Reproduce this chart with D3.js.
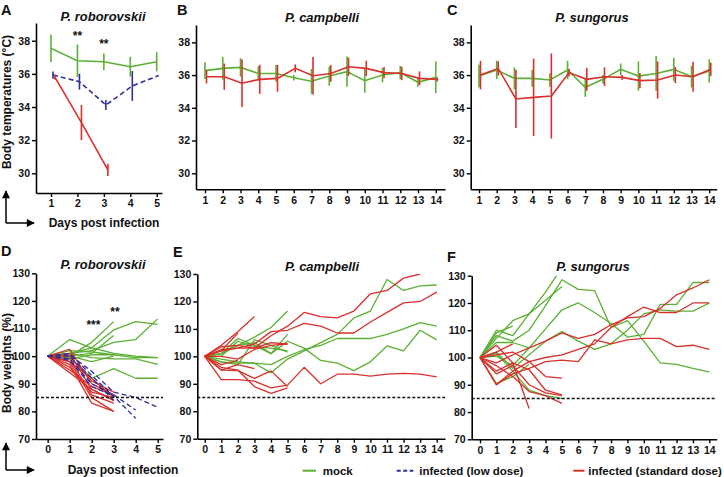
<!DOCTYPE html>
<html><head><meta charset="utf-8">
<script src="https://cdn.jsdelivr.net/npm/d3@7"></script>
<style>
html,body{margin:0;padding:0;background:#fff;}
svg{display:block;font-family:"Liberation Sans",Arial,Helvetica,sans-serif;}
</style></head>
<body><svg id="chart" width="724" height="477"></svg>
<script>
// ---------- DATA ----------
const tempDaysRobo = [1,2,3,4,5];
const tempDaysLong = [1,2,3,4,5,6,7,8,9,10,11,12,13,14];
const tempTicksY = [30,32,34,36,38];

// Panel A: P. roborovskii body temperature (mean, SD)
const tempRoboMock = [37.54, 36.79, 36.73, 36.43, 36.73];
const tempRoboMockSD = [0.83, 0.98, 0.50, 0.60, 0.58];
const tempRoboLow = [35.93, 35.53, 34.12, 35.27, 35.90];
const tempRoboLowSD = [0.22, 0.48, 0.30, 0.90, 0.0];
const tempRoboStd = [35.79, 33.06, 30.20];
const tempRoboStdSD = [0.15, 1.06, 0.37];

// Panel B: P. campbelli
const tempCampMock = [36.27,36.41,36.47,36.10,36.10,35.84,35.62,35.94,36.21,35.66,36.00,36.15,35.56,35.86];
const tempCampMockSD = [0.51,0.69,0.56,0.43,0.51,0.17,0.76,0.59,0.92,0.74,0.44,0.41,0.28,0.97];
const tempCampStd = [35.90,35.90,35.50,35.74,35.80,36.41,35.96,36.10,36.51,36.41,36.15,36.10,35.80,35.74];
const tempCampStdSD = [0.41,0.80,1.45,0.89,0.82,0.24,1.14,0.51,0.56,0.47,0.34,0.41,0.42,0.13];

// Panel C: P. sungorus
const tempSungMock = [35.94,36.31,35.80,35.80,35.70,36.31,35.25,35.74,36.35,35.94,36.10,36.35,35.90,36.25];
const tempSungMockSD = [0.69,0.56,0.67,0.51,0.41,0.56,0.58,0.27,0.36,0.89,1.07,0.71,0.66,0.71];
const tempSungStd = [36.00,36.41,34.54,34.64,34.72,36.15,35.74,35.90,35.86,35.66,35.70,36.00,35.90,36.35];
const tempSungStdSD = [0.87,0.44,1.78,2.37,2.60,0.24,0.70,0.57,0.15,0.46,1.14,0.49,0.92,0.41];

// Significance marks
const starsA = [{day:2, value:38.05, text:"**"}, {day:3, value:37.55, text:"**"}];
const starsD = [{day:2.08, value:110, text:"***"}, {day:3.06, value:114.5, text:"**"}];

// Body weights (% of day 0), one array per animal, values from day 0
const weightTicksY = [70,80,90,100,110,120,130];
const weightThreshold = 85;

const weightRoboMock = [
  [100,101,103,109.5,112.5,111.5],
  [100,100,105,112.5],
  [100,101,102,105,106,113.5],
  [100,100,101,107.5],
  [100,106,103,101,100,99.5],
  [100,99,100.5,100.5,99.5,99.5],
  [100,101,99.5,99,99,97],
  [100,99.5,92,95.5,92,92],
  [100,100,98,100],
  [100,102,101.5,100.5]
];
const weightRoboStd = [
  [100,102.5,90,86],
  [100,101,88,84],
  [100,99,86,83],
  [100,98,85,80],
  [100,97,83,80],
  [100,96,87,85],
  [100,95,89,86],
  [100,94,88,84],
  [100,100,91,87],
  [100,98,92,85]
];
const weightRoboLow = [
  [100,100.5,94.5,87,85,81.5],
  [100,101,93,85.5,77.5],
  [100,99,90,86,80.5],
  [100,100,92,84],
  [100,98.5,89,85.5]
];

const weightCampMock = [
  [100,98,97.5,97.5,94,99,102,105,108,114,116.5,128,124,125.7,126],
  [100,99,98,97.5,97,100,102.5,104,106.5,106.5,106.5,108,110,112.3,111],
  [100,101,104,105,101,105.5,103,98.5,97.5,94.8,98,103.8,102,109.5,106],
  [100,101,104,107,110.5,116.5],
  [100,101,106.5,104,101,108],
  [100,98,97,106,104,101.5],
  [100,100,105.5,103.5,103,102]
];
const weightCampStd = [
  [100,103.5,104,103,107.5,111,116,114.5,114,116.5,122.8,124,128.5,130],
  [100,102,103,104.5,109,109.5,112,111,108.5,108.5,112.5,116,119.5,120,123.4],
  [100,91.5,91.5,91,88.5,89.5,96,90,93.5,93.5,92.8,93.5,93.8,93.5,92.5],
  [100,104,109,114.5],
  [100,102,108.5],
  [100,95,97,95.5],
  [100,96,95,89,86.5,88.5],
  [100,95,94.8,92,94.7,89],
  [100,102.5,103,103,105,104.5],
  [100,100,99,102.5,104,104.5],
  [100,97,98.5]
];

const weightSungMock = [
  [100,110,108,116,124,133],
  [100,107,113.5,116,121,126],
  [100,108,106,110,119,128.5,125,124.5,111,113.5,106,98,97.5,96,94.7],
  [100,100.5,97,103.5,110.5,117.5,120,116.5,112.5,107.5,108.5,119.5,119.5,127.5,127.5],
  [100,102,96,101,106,109.5,106,103,105,110,116,117.5,117,117,120],
  [100,109,111.5],
  [100,105.5,105.5,103.5],
  [100,90.5,93,97.5],
  [100,101.5,95,88,86,85]
];
const weightSungStd = [
  [100,98,101,103.5,106,109,107,108.5,112,114.5,115,118,123,125.5,128.5],
  [100,90,95,98.5,100,101,103,105,111,115,118.5,116.5,116.5,120,120],
  [100,90,94,96,98.5,99,98.5,106.5,105,106.5,107,107,104,104.5,103],
  [100,101,102,98.5,93,92.4],
  [100,104.5,98,95.5,88,86.3],
  [100,97,93,87.5,86,83.2],
  [100,95,98,81.3],
  [100,102,105],
  [100,94,97,90,87,86]
];

const legendLabels = ["mock", "infected (low dose)", "infected (standard dose)"];
const speciesTitles = ["P. roborovskii", "P. campbelli", "P. sungorus"];

// ---------- STYLE ----------
const GREEN = "#5bb034", RED = "#d9302c", BLUE = "#2f2f9c";
const FONT_AXIS = "10.5px";
const svg = d3.select("#chart");

svg.append("defs").append("marker")
  .attr("id","arrow").attr("viewBox","0 0 10 10").attr("refX",9).attr("refY",5)
  .attr("markerWidth",9).attr("markerHeight",8).attr("markerUnits","userSpaceOnUse")
  .attr("orient","auto")
  .append("path").attr("d","M0,0L10,5L0,10Z").attr("fill","#000");

function styleAxis(g){
  g.selectAll(".domain").attr("stroke","#000").attr("stroke-width",1.6);
  g.selectAll(".tick line").attr("stroke","#000").attr("stroke-width",1.4);
  g.selectAll(".tick text").attr("font-size",FONT_AXIS).attr("font-weight","bold")
    .attr("font-family","'Liberation Sans',Arial,sans-serif").attr("fill","#111");
}

function makeScales(cfg){
  const x = d3.scaleLinear().domain(cfg.xDomain).range([cfg.left, cfg.right]);
  const y = d3.scaleLinear().domain(cfg.yDomain).range([cfg.bottom, cfg.top]);
  return {x,y};
}

function drawAxes(cfg, x, y, xTicks, yTicks){
  const gx = svg.append("g").attr("transform",`translate(0,${cfg.bottom})`)
    .call(d3.axisBottom(x).tickValues(xTicks).tickSize(4).tickSizeOuter(0).tickPadding(3).tickFormat(d3.format("d")));
  styleAxis(gx);
  const gy = svg.append("g").attr("transform",`translate(${cfg.left},0)`)
    .call(d3.axisLeft(y).tickValues(yTicks).tickSize(4).tickSizeOuter(0).tickPadding(2).tickFormat(d3.format("d")));
  styleAxis(gy);
}

function drawTitle(cfg, text){
  svg.append("text").attr("x",cfg.titleX).attr("y",cfg.titleY)
    .attr("text-anchor","middle").attr("font-size","13px").attr("font-weight","bold")
    .attr("font-style","italic").attr("fill","#111").text(text);
  svg.append("text").attr("x",cfg.letterX).attr("y",cfg.letterY)
    .attr("font-size","14.5px").attr("font-weight","bold").attr("fill","#111").text(cfg.letter);
}

function tempPanel(cfg, days, series){
  const {x,y} = makeScales(cfg);
  drawAxes(cfg, x, y, days, tempTicksY);
  series.forEach(s => {
    const pts = s.means.map((m,i)=>({d:days[i], m, sd:s.sd[i]}));
    const line = d3.line().x(p=>x(p.d)+s.offset).y(p=>y(p.m));
    svg.append("path").datum(pts).attr("d",line).attr("fill","none")
      .attr("stroke",s.color).attr("stroke-width",1.6)
      .attr("stroke-dasharray",s.dash||null);
    svg.append("g").selectAll("line").data(pts.filter(p=>p.sd>0)).join("line")
      .attr("x1",p=>x(p.d)+s.offset).attr("x2",p=>x(p.d)+s.offset)
      .attr("y1",p=>y(p.m-p.sd)).attr("y2",p=>y(p.m+p.sd))
      .attr("stroke",s.color).attr("stroke-width",1.6);
  });
  drawTitle(cfg, cfg.title);
  return {x,y};
}

let clipId = 0;
function weightPanel(cfg, groups){
  const {x,y} = makeScales(cfg);
  const xTicks = d3.range(0, cfg.maxDay+1);
  drawAxes(cfg, x, y, xTicks, weightTicksY);
  const cid = "clip"+(clipId++);
  svg.append("clipPath").attr("id",cid).append("rect")
    .attr("x",cfg.left).attr("y",cfg.top).attr("width",cfg.right-cfg.left).attr("height",cfg.bottom-cfg.top);
  const line = d3.line().x((v,i)=>x(i)).y(v=>y(v));
  groups.forEach(gr => {
    svg.append("g").attr("clip-path",`url(#${cid})`).selectAll("path").data(gr.animals).join("path")
      .attr("d",line).attr("fill","none").attr("stroke",gr.color).attr("stroke-width",1.3)
      .attr("stroke-dasharray",gr.dash||null).attr("stroke-linejoin","round");
  });
  svg.append("line").attr("x1",cfg.left).attr("x2",cfg.right)
    .attr("y1",y(weightThreshold)).attr("y2",y(weightThreshold))
    .attr("stroke","#111").attr("stroke-width",1.5).attr("stroke-dasharray","3,2");
  drawTitle(cfg, cfg.title);
  return {x,y};
}

// ---------- PANELS ----------
const a = tempPanel({left:36,right:162,top:23,bottom:193,xDomain:[0.432,5.2],yDomain:[28.81,39.07],
  title:speciesTitles[0],titleX:103,titleY:21,letter:"A",letterX:1,letterY:15}, tempDaysRobo, [
  {means:tempRoboMock, sd:tempRoboMockSD, color:GREEN, offset:0},
  {means:tempRoboLow, sd:tempRoboLowSD, color:BLUE, offset:2, dash:"5,3"},
  {means:tempRoboStd, sd:tempRoboStdSD, color:RED, offset:4}
]);
svg.append("g").selectAll("text").data(starsA).join("text")
  .attr("x",d=>a.x(d.day)).attr("y",d=>a.y(d.value)).attr("text-anchor","middle")
  .attr("font-size","12px").attr("font-weight","bold").attr("fill","#111").text(d=>d.text);

tempPanel({left:196,right:445,top:25,bottom:189.3,xDomain:[0.493,14.52],yDomain:[29.02,39.06],
  title:speciesTitles[1],titleX:322,titleY:22,letter:"B",letterX:177,letterY:15}, tempDaysLong, [
  {means:tempCampMock, sd:tempCampMockSD, color:GREEN, offset:0},
  {means:tempCampStd, sd:tempCampStdSD, color:RED, offset:1.5}
]);

tempPanel({left:470.7,right:716.7,top:25,bottom:189.3,xDomain:[0.532,14.42],yDomain:[29.02,39.06],
  title:speciesTitles[2],titleX:592,titleY:22,letter:"C",letterX:447,letterY:15}, tempDaysLong, [
  {means:tempSungMock, sd:tempSungMockSD, color:GREEN, offset:0},
  {means:tempSungStd, sd:tempSungStdSD, color:RED, offset:1.5}
]);

const dP = weightPanel({left:36,right:163,top:273.3,bottom:439,xDomain:[-0.53,5.24],yDomain:[70,130],maxDay:5,
  title:speciesTitles[0],titleX:103,titleY:269,letter:"D",letterX:1,letterY:256}, [
  {animals:weightRoboMock, color:GREEN},
  {animals:weightRoboStd, color:RED},
  {animals:weightRoboLow, color:BLUE, dash:"5,3"}
]);
svg.append("g").selectAll("text").data(starsD).join("text")
  .attr("x",d=>dP.x(d.day)).attr("y",d=>dP.y(d.value)).attr("text-anchor","middle")
  .attr("font-size","12px").attr("font-weight","bold").attr("fill","#111").text(d=>d.text);

weightPanel({left:197.3,right:445,top:274,bottom:438.7,xDomain:[-0.447,14.5],yDomain:[70,130],maxDay:14,
  title:speciesTitles[1],titleX:322,titleY:271,letter:"E",letterX:173,letterY:257}, [
  {animals:weightCampMock, color:GREEN},
  {animals:weightCampStd, color:RED}
]);

weightPanel({left:471.7,right:716.7,top:275.7,bottom:439.3,xDomain:[-0.507,14.45],yDomain:[70,130],maxDay:14,
  title:speciesTitles[2],titleX:593,titleY:271,letter:"F",letterX:447,letterY:262}, [
  {animals:weightSungMock, color:GREEN},
  {animals:weightSungStd, color:RED}
]);

// ---------- AXIS TITLES & ARROWS ----------
function yLabel(xp, yp, text){
  svg.append("text").attr("transform",`translate(${xp},${yp}) rotate(-90)`)
    .attr("text-anchor","middle").attr("font-size","12px").attr("font-weight","bold")
    .attr("fill","#111").text(text);
}
yLabel(11, 102, "Body temperatures (°C)");
yLabel(11, 363, "Body weights (%)");

function xLabel(xp, yp){
  svg.append("text").attr("x",xp).attr("y",yp).attr("text-anchor","middle")
    .attr("font-size","12px").attr("font-weight","bold").attr("fill","#111").text("Days post infection");
}
xLabel(104, 227);
xLabel(123, 474);

function arrows(x0, yBottom, yTop, xRight){
  svg.append("line").attr("x1",x0).attr("y1",yBottom).attr("x2",x0).attr("y2",yTop)
    .attr("stroke","#000").attr("stroke-width",1.5).attr("marker-end","url(#arrow)");
  svg.append("line").attr("x1",x0).attr("y1",yBottom).attr("x2",xRight).attr("y2",yBottom)
    .attr("stroke","#000").attr("stroke-width",1.5).attr("marker-end","url(#arrow)");
}
arrows(6, 223, 191, 34);
arrows(6, 470, 443, 34);

// ---------- LEGEND ----------
const legendItems = [
  {label:legendLabels[0], color:GREEN, x1:302.7, x2:316, tx:322.7},
  {label:legendLabels[1], color:BLUE, x1:396.7, x2:413.3, tx:419.3, dash:"4,2.5"},
  {label:legendLabels[2], color:RED, x1:573.3, x2:584.5, tx:588.3}
];
const lg = svg.append("g");
legendItems.forEach(it => {
  lg.append("line").attr("x1",it.x1).attr("x2",it.x2).attr("y1",470.7).attr("y2",470.7)
    .attr("stroke",it.color).attr("stroke-width",2).attr("stroke-dasharray",it.dash||null);
  lg.append("text").attr("x",it.tx).attr("y",475).attr("font-size","11.5px").attr("font-weight","bold")
    .attr("fill","#111").text(it.label);
});
</script></body></html>
